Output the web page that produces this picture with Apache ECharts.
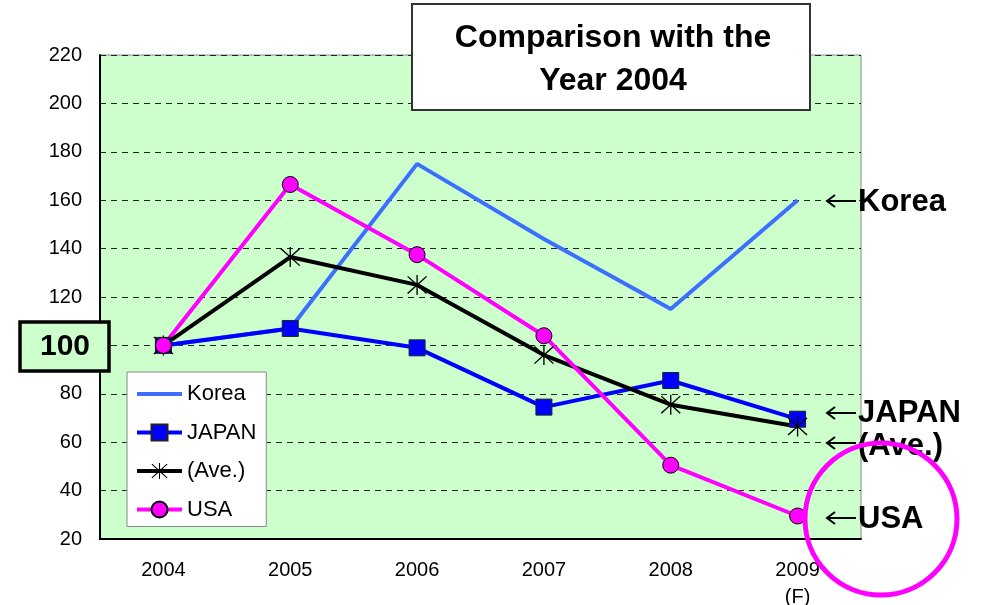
<!DOCTYPE html>
<html>
<head>
<meta charset="utf-8">
<script src="https://cdn.jsdelivr.net/npm/echarts@6/dist/echarts.min.js"></script>
<style>
  html, body { margin: 0; padding: 0; background: #fff; }
  #chart { width: 993px; height: 605px; }
</style>
</head>
<body>
<div id="chart"></div>
<script>
// 2004 = 100 の比較データ
const years = ['2004', '2005', '2006', '2007', '2008', '2009\n(F)']
const korea = [100, 107, 175, 144, 115, 160]
const japan = [100, 107, 99, 74.5, 85.5, 69.5]
const average = [100, 136.5, 125, 96, 75.5, 66.5]
const usa = [100, 166.5, 137.5, 104, 50.5, 29.5]

const FONT = '"Liberation Sans", Arial, sans-serif'

// アスタリスク形のマーカー
const asterisk = 'path://M9.4 0 L10.6 0 L10.6 20 L9.4 20 Z M1.9 1 L19 18.1 L18.1 19 L1 1.9 Z M18.1 1 L19 1.9 L1.9 19 L1 18.1 Z'

// 右側の矢印 + ラベル
const arrow = (y) => [
    { type: 'line', shape: { x1: 827, y1: y, x2: 856, y2: y }, style: { stroke: '#000', lineWidth: 2 }, z: 100 },
    { type: 'polyline', shape: { points: [[835, y - 6], [827, y], [835, y + 6]] }, style: { stroke: '#000', lineWidth: 2, fill: null }, z: 100 }
]
const tag = (text, y) => ({
    type: 'text', x: 858, y: y, z: 100,
    style: { text: text, font: 'bold 31px ' + FONT, fill: '#000', verticalAlign: 'middle', align: 'left' }
})

const myChart = echarts.init(document.getElementById('chart'))
myChart.setOption({
    animation: false,
    grid: {
        left: 100,
        right: 132,
        top: 55,
        bottom: 66,
        outerBoundsMode: 'none',
        containLabel: false,
        show: true,
        backgroundColor: '#ccffcc',
        borderColor: '#888',
        borderWidth: 1
    },
    legend: {
        orient: 'vertical',
        left: 127,
        top: 372,
        padding: [11, 10, 6, 8],
        itemGap: 16.5,
        itemWidth: 45,
        itemHeight: 20,
        backgroundColor: '#fff',
        borderColor: '#888',
        borderWidth: 1,
        lineStyle: { width: 4 },
        textStyle: { fontFamily: FONT, fontSize: 22, color: '#000' },
        data: [
            { name: 'Korea', itemStyle: { opacity: 0 } },
            'JAPAN', '(Ave.)', 'USA'
        ]
    },
    xAxis: {
        type: 'category',
        data: years,
        boundaryGap: true,
        axisLine: { lineStyle: { color: '#000', width: 2 } },
        axisTick: { inside: true, length: 6, lineStyle: { color: '#000' } },
        axisLabel: { fontFamily: FONT, fontSize: 20, color: '#000', lineHeight: 27, margin: 18 },
        splitLine: { show: false }
    },
    yAxis: {
        type: 'value',
        min: 20,
        max: 220,
        interval: 20,
        axisLine: { show: true, lineStyle: { color: '#000', width: 2 } },
        axisTick: { show: false },
        axisLabel: { fontFamily: FONT, fontSize: 20, color: '#000', margin: 18 },
        splitLine: { lineStyle: { color: '#222', type: [6, 5], width: 1 } }
    },
    series: [
        {
            name: 'Korea',
            type: 'line',
            data: korea,
            symbol: 'none',
            lineStyle: { color: '#3d6fff', width: 4 },
            itemStyle: { color: '#3d6fff' }
        },
        {
            name: 'JAPAN',
            type: 'line',
            data: japan,
            symbol: 'rect',
            symbolSize: 16,
            lineStyle: { color: '#0000ff', width: 4 },
            itemStyle: { color: '#0000ff', borderColor: '#222', borderWidth: 1, opacity: 1 }
        },
        {
            name: '(Ave.)',
            type: 'line',
            data: average,
            symbol: asterisk,
            symbolSize: 20,
            lineStyle: { color: '#000', width: 4 },
            itemStyle: { color: '#000' }
        },
        {
            name: 'USA',
            type: 'line',
            data: usa,
            symbol: 'circle',
            symbolSize: 16,
            lineStyle: { color: '#ff00ff', width: 4 },
            itemStyle: { color: '#ff00ff', borderColor: '#000', borderWidth: 1, opacity: 1 }
        }
    ],
    graphic: [
        // タイトルボックス
        {
            type: 'rect', z: 100,
            shape: { x: 412, y: 4, width: 398, height: 106 },
            style: { fill: '#fff', stroke: '#333', lineWidth: 2 }
        },
        {
            type: 'text', x: 613, y: 60, z: 101,
            style: {
                text: 'Comparison with the\nYear 2004',
                font: 'bold 32px ' + FONT,
                lineHeight: 43,
                fill: '#000',
                align: 'center',
                verticalAlign: 'middle'
            }
        },
        // 100 ボックス
        {
            type: 'rect', z: 100,
            shape: { x: 20, y: 322, width: 89, height: 49 },
            style: { fill: '#ccffcc', stroke: '#000', lineWidth: 3.5 }
        },
        {
            type: 'text', x: 65, y: 347, z: 101,
            style: { text: '100', font: 'bold 30px ' + FONT, fill: '#000', align: 'center', verticalAlign: 'middle' }
        },
        ...arrow(201), tag('Korea', 202),
        ...arrow(413), tag('JAPAN', 413),
        ...arrow(443), tag('(Ave.)', 446),
        ...arrow(518), tag('USA', 519),
        // 強調の円
        {
            type: 'circle', z: 110,
            shape: { cx: 881, cy: 519, r: 76 },
            style: { fill: null, stroke: '#ff00ff', lineWidth: 5 }
        }
    ]
})
</script>
</body>
</html>
